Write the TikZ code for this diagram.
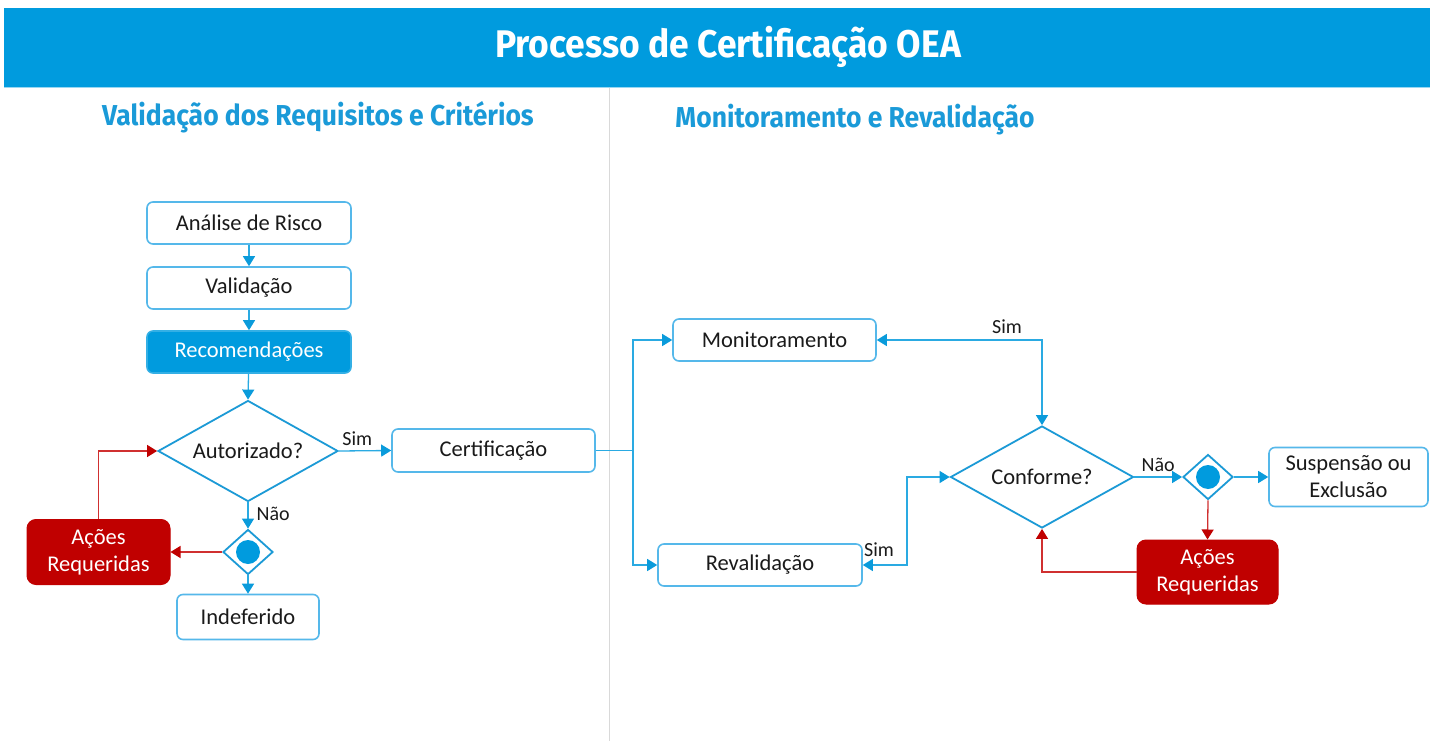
\documentclass[tikz,border=0pt]{standalone}
\usepackage{fontspec}
\setmainfont{Carlito}
\newfontfamily\headfont[FakeStretch=0.92]{Fira Sans}
\usetikzlibrary{shapes.geometric,arrows.meta}
\definecolor{barblue}{HTML}{009BDE}
\definecolor{subblue}{HTML}{1A9AD8}
\definecolor{boxblue}{HTML}{55B8EA}
\definecolor{diablue}{HTML}{1C9AD6}
\definecolor{lineblue}{HTML}{2AAAE2}
\definecolor{tipblue}{HTML}{0A9BDB}
\definecolor{redfill}{HTML}{C00000}
\definecolor{redline}{HTML}{D03030}
\definecolor{txt}{HTML}{1A1A1A}
\tikzset{
  stepbox/.style={draw=boxblue,line width=1.6pt,rounded corners=6pt,fill=white,
    minimum width=204pt,minimum height=42pt,inner sep=0pt,text=txt,
    font=\fontsize{22.5}{26}\selectfont,align=center},
  bluebox/.style={stepbox,fill=barblue,draw=barblue!80!white,text=white},
  redbox/.style={draw=redfill,line width=1pt,rounded corners=9pt,fill=redfill,text=white,
    inner sep=0pt,font=\fontsize{22.5}{27}\selectfont,align=center},
  decision/.style={diamond,draw=diablue,line width=1.8pt,fill=white,inner sep=0pt,aspect=1.8,
    text=txt,font=\fontsize{22.5}{26}\selectfont},
  gate/.style={diamond,draw=diablue,line width=1.8pt,fill=white,inner sep=0pt,
    minimum width=50pt,minimum height=45pt},
  conn/.style={draw=lineblue,line width=1.3pt,-{Triangle[width=12pt,length=10pt,fill=tipblue,color=tipblue]}},
  conn2/.style={draw=lineblue,line width=1.3pt,{Triangle[width=12pt,length=10pt,fill=tipblue,color=tipblue]}-{Triangle[width=12pt,length=10pt,fill=tipblue,color=tipblue]}},
  plain/.style={draw=lineblue,line width=1.3pt},
  redconn/.style={draw=redline,line width=1.3pt,-{Triangle[width=12pt,length=10pt,fill=redfill,color=redfill]}},
  lbl/.style={text=txt,font=\fontsize{20}{24}\selectfont,inner sep=0pt},
  headtxt/.style={font=\headfont\bfseries\fontsize{38.5}{44}\selectfont,text=white,inner sep=0pt},
  subtxt/.style={font=\headfont\bfseries\fontsize{28.8}{33}\selectfont,text=subblue,inner sep=0pt}
}
\begin{document}
\begin{tikzpicture}[x=1pt,y=-1pt]
\useasboundingbox (0,0) rectangle (1430,741);
\fill[white] (0,0) rectangle (1430,741);
% header
\fill[barblue] (4,8) rectangle (1430,87);
\draw[color=barblue!40!white,line width=1pt] (4,87.5) -- (1430,87.5);
\draw[color=black!15,line width=1pt] (609,88) -- (609,741);
\node[headtxt] (title) at (728,47) {Processo de Certificação OEA};
\node[subtxt] (sub1) at (318,117) {Validação dos Requisitos e Critérios};
\node[subtxt] (sub2) at (855,120) {Monitoramento e Revalidação};
% left column
\node[stepbox] (ar) at (249,223) {Análise de Risco};
\node[stepbox] (val) at (249,288) {Validação};
\node[bluebox] (rec) at (249,352) {Recomendações};
\node[decision,minimum width=180pt,minimum height=101pt] (aut) at (248,451) {Autorizado?};
\node[gate] (g1) at (248,552) {};
\fill[barblue] (g1.center) circle (12pt);
\node[stepbox,minimum width=142pt,minimum height=45pt] (ind) at (248,617) {Indeferido};
\node[redbox,minimum width=143pt,minimum height=65pt] (acr1) at (98.5,552) {Ações\\Requeridas};
\node[stepbox,minimum width=203pt,minimum height=43pt] (cert) at (493.5,450.5) {Certificação};
% right column
\node[stepbox,minimum width=203pt] (mon) at (774.5,340) {Monitoramento};
\node[stepbox] (rev) at (760,565) {Revalidação};
\node[decision,minimum width=183pt,minimum height=102pt] (conf) at (1042,477) {Conforme?};
\node[gate] (g2) at (1208,477) {};
\fill[barblue] (g2.center) circle (12pt);
\node[stepbox,minimum width=159pt,minimum height=59pt,font=\fontsize{22.5}{27}\selectfont] (sus) at (1348.5,477) {Suspensão ou\\Exclusão};
\node[redbox,minimum width=141pt,minimum height=64pt] (acr2) at (1207.5,572) {Ações\\Requeridas};
% connectors left
\draw[conn] (ar) -- (val);
\draw[conn] (val) -- (rec);
\draw[conn] (rec) -- (aut.north);
\draw[conn] (aut.east) -- (cert.west) node[lbl,pos=0.35,above=5pt] (s1) {Sim};
\draw[conn] (aut.south) -- (g1.north) node[lbl,pos=0.45,right=8pt] (n1) {Não};
\draw[conn] (g1.south) -- (ind.north);
\draw[redconn] (g1.west) -- (acr1.east);
\draw[redconn] (acr1.north) |- (aut.west);
% connectors right
\coordinate (split) at (633,450.5);
\draw[plain] (cert.east) -- (split);
\draw[conn] (split) |- (mon.west);
\draw[conn] (split) |- (rev.west);
\draw[conn2] (mon.east) -| (conf.north);
\node[lbl] (s2) at (1007,327) {Sim};
\coordinate (bend) at (907,565);
\draw[conn2] (rev.east) -- (bend) |- (conf.west);
\node[lbl] (s3) at (879,550) {Sim};
\draw[conn] (conf.east) -- (g2.west) node[lbl,pos=0.5,above=5pt] (n2) {Não};
\draw[conn] (g2.east) -- (sus.west);
\draw[redconn] (g2.south) -- (acr2.north);
\draw[redconn] (acr2.west) -| (conf.south);
\end{tikzpicture}
\end{document}
